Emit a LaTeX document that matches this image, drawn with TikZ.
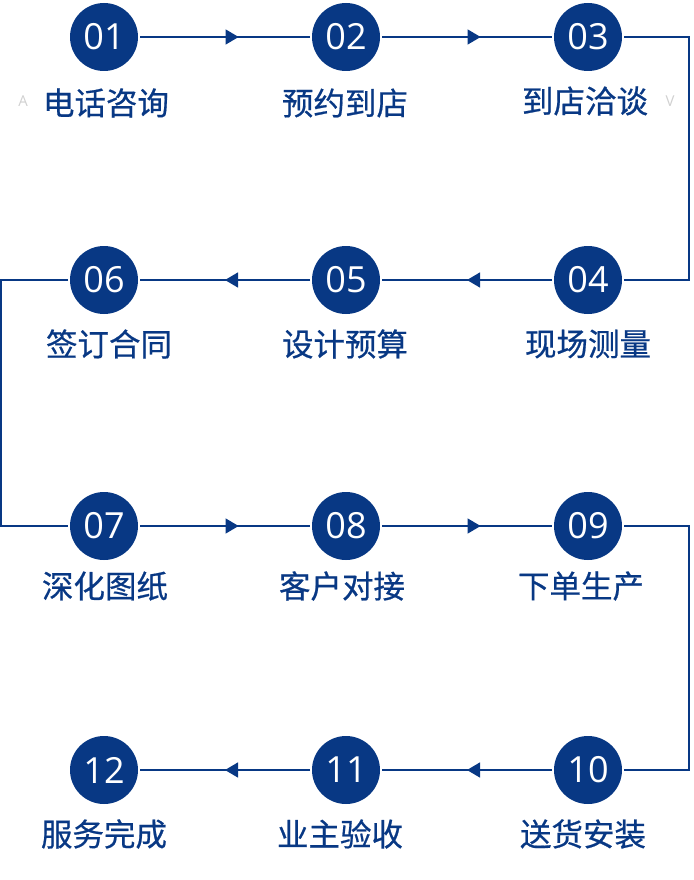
\documentclass[tikz,border=0pt]{standalone}
\usepackage{fontspec}
\setmainfont{Open Sans}
\newfontfamily\cjk[FakeBold=0.6]{Noto Sans CJK SC}
\usetikzlibrary{arrows.meta,decorations.markings}
\definecolor{navy}{HTML}{083884}
\definecolor{faint}{HTML}{D0D0D0}

\begin{document}
\begin{tikzpicture}[x=1pt,y=-1pt,
  stepdot/.style={circle,fill=navy,minimum size=68pt,inner sep=0pt,outer sep=2pt,
    text=white,font=\fontsize{36}{36}\selectfont},
  steplabel/.style={text=navy,inner sep=0pt,font=\cjk\fontsize{31.5}{31.5}\selectfont},
  link/.style={draw=navy,line width=1.3pt},
  flowright/.style={link,decoration={markings,
    mark=at position 0.58 with {\arrow{Triangle[length=13pt,width=15pt]}}},
    postaction={decorate}},
  flowleft/.style={link,decoration={markings,
    mark=at position 0.5 with {\arrow{Triangle[length=13pt,width=15pt]}}},
    postaction={decorate}},
  ghost/.style={text=faint,inner sep=0pt,font=\fontsize{15}{15}\selectfont}
]
\useasboundingbox (0,0) rectangle (693,880);

% circles
\node[stepdot] (n01) at (104,37)  {01};
\node[stepdot] (n02) at (346,37)  {02};
\node[stepdot] (n03) at (588,37)  {03};
\node[stepdot] (n04) at (588,280) {04};
\node[stepdot] (n05) at (346,280) {05};
\node[stepdot] (n06) at (104,280) {06};
\node[stepdot] (n07) at (104,526) {07};
\node[stepdot] (n08) at (346,526) {08};
\node[stepdot] (n09) at (588,526) {09};
\node[stepdot] (n10) at (588,770) {10};
\node[stepdot] (n11) at (346,770) {11};
\node[stepdot] (n12) at (104,770) {12};

% captions
\node[steplabel] (t01) at (106,103) {电话咨询};
\node[steplabel] (t02) at (345,103) {预约到店};
\node[steplabel] (t03) at (585,101) {到店洽谈};
\node[steplabel] (t04) at (588,344) {现场测量};
\node[steplabel] (t05) at (345,344) {设计预算};
\node[steplabel] (t06) at (109,344) {签订合同};
\node[steplabel] (t07) at (105,586) {深化图纸};
\node[steplabel] (t08) at (342,586) {客户对接};
\node[steplabel] (t09) at (581,586) {下单生产};
\node[steplabel] (t10) at (583,834) {送货安装};
\node[steplabel] (t11) at (340,834) {业主验收};
\node[steplabel] (t12) at (104,834) {服务完成};

% faint stray letters
\node[ghost] (g1) at (23,101) {A};
\node[ghost] (g2) at (670,101) {V};

% turning points at the outer edges
\coordinate (r1) at (689,37);
\coordinate (l2) at (1,280);
\coordinate (r3) at (689,526);

% connectors
\draw[flowright] (n01) -- (n02);
\draw[flowright] (n02) -- (n03);
\draw[link] (n03) -- (r1) |- (n04);
\draw[flowleft] (n04) -- (n05);
\draw[flowleft] (n05) -- (n06);
\draw[link] (n06) -- (l2) |- (n07);
\draw[flowright] (n07) -- (n08);
\draw[flowright] (n08) -- (n09);
\draw[link] (n09) -- (r3) |- (n10);
\draw[flowleft] (n10) -- (n11);
\draw[flowleft] (n11) -- (n12);
\end{tikzpicture}
\end{document}
